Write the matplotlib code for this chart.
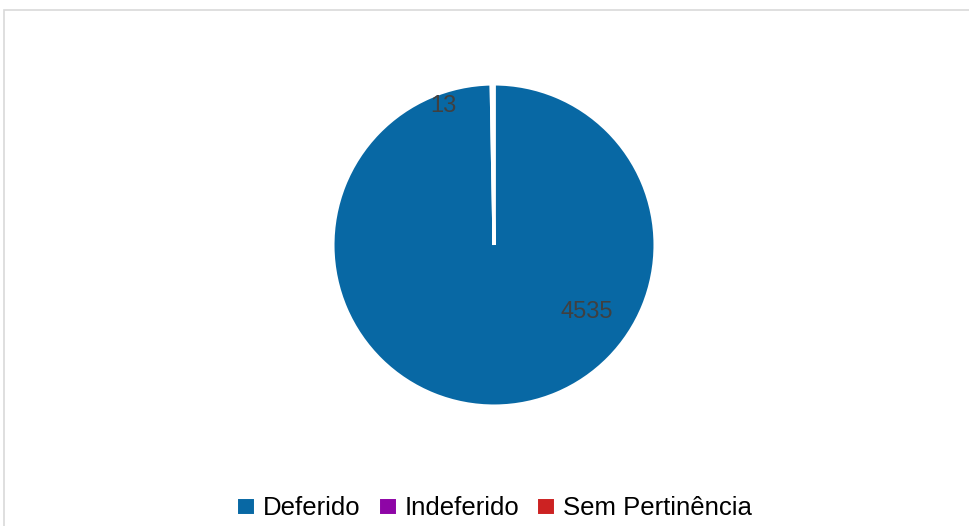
import matplotlib.pyplot as plt
from matplotlib.patches import Rectangle
import numpy as np

plt.rcParams['font.family'] = ['Liberation Sans', 'DejaVu Sans']

# Data
categories = ['Deferido', 'Indeferido', 'Sem Pertinência']
values = [4535, 13, 0]
colors = ['#0868a4', '#8e05a6', '#cc2222']

fig = plt.figure(figsize=(9.69, 5.26), dpi=100)
ax = fig.add_axes([0, 0, 1, 1])

# Chart area border (runs off the right and bottom edges)
fig.patches.append(Rectangle((4 / 969, -0.1), 1.2, (526 - 10) / 526 + 0.1,
                             transform=fig.transFigure, fill=False,
                             edgecolor='#d9d9d9', linewidth=1.2))

cx, cy, r = 494, 526 - 245, 161
wedges, _ = ax.pie(values, colors=colors, startangle=90, counterclock=False,
                   center=(cx, cy), radius=r, frame=True,
                   wedgeprops=dict(edgecolor='white', linewidth=2.2))
ax.set_xlim(0, 969)
ax.set_ylim(0, 526)
ax.axis('off')

# Value labels (zero slices are not labelled)
label_pos = {0: (0.71, -36), 1: (0.92, 110)}  # fraction of radius, angle (deg, math convention)
for i, v in enumerate(values):
    if v == 0:
        continue
    fr, ang = label_pos[i]
    a = np.deg2rad(ang)
    ax.text(cx + fr * r * np.cos(a), cy + fr * r * np.sin(a), str(v),
            ha='center', va='center', fontsize=17, color='#404040')

fig.legend(wedges, categories, loc='center', bbox_to_anchor=(494 / 969, 1 - 508 / 526),
           ncol=3, frameon=False, fontsize=18.5, handlelength=0.75, handleheight=0.75,
           handletextpad=0.3, columnspacing=0.65)

fig.savefig('out.png', dpi=100)
